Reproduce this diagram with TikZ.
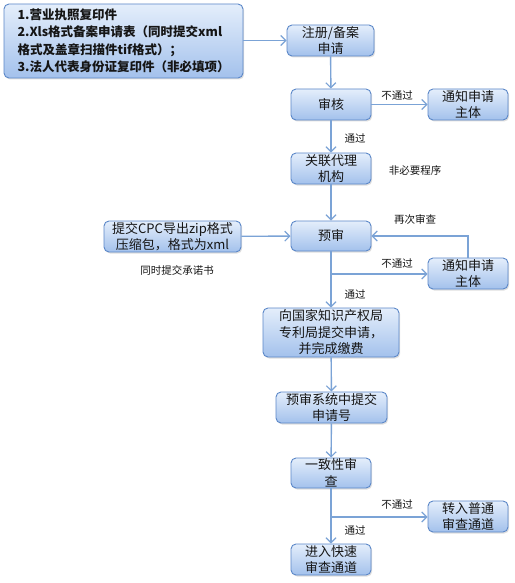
\documentclass[tikz,border=0pt]{standalone}
\usepackage{fontspec}
\setmainfont{Noto Sans CJK SC}
\usetikzlibrary{shadows,arrows.meta}
\definecolor{ln}{HTML}{7BA3D6}
\definecolor{bd}{HTML}{5B87C8}
\definecolor{topc}{HTML}{E4EEFB}
\definecolor{botc}{HTML}{A3C1EC}
\definecolor{txt}{HTML}{151515}
\tikzset{
  box/.style={draw=bd, line width=0.9pt, rounded corners=5pt, top color=topc, bottom color=botc,
    drop shadow={opacity=0.25, shadow xshift=1.2pt, shadow yshift=-1.5pt},
    font=\fontsize{13}{16.5}\selectfont, text=txt, align=center, inner sep=0pt},
  lab/.style={font=\fontsize{10.5}{12}\selectfont, text=txt, inner sep=0pt},
  conn/.style={draw=ln, line width=1.4pt, -{Straight Barb[length=5pt,width=10pt,line width=1.2pt]}},
  plain/.style={draw=ln, line width=1.4pt}
}
\begin{document}
\begin{tikzpicture}[x=1pt,y=-1pt]
\fill[white] (0,0) rectangle (514,583);
\useasboundingbox (0,0) rectangle (514,583);
\node[box, minimum width=239pt, minimum height=74pt, align=left, font=\bfseries\fontsize{12.5}{17.5}\selectfont] (big) at (123.5,41)
  {1.营业执照复印件\\2.Xls格式备案申请表（同时提交xml\\格式及盖章扫描件tif格式）；\\3.法人代表身份证复印件（非必填项）};
\node[box, minimum width=87pt, minimum height=31pt] (reg) at (330.5,40.5) {注册/备案\\申请};
\node[box, minimum width=80pt, minimum height=31pt] (audit) at (331,104.5) {审核};
\node[box, minimum width=80pt, minimum height=31pt] (n1) at (468,104.5) {通知申请\\主体};
\node[box, minimum width=80pt, minimum height=31pt] (agent) at (331,168.5) {关联代理\\机构};
\node[box, minimum width=80pt, minimum height=30pt] (pre) at (331,236) {预审};
\node[box, minimum width=137pt, minimum height=31pt] (cpc) at (172.5,236.5) {提交CPC导出zip格式\\压缩包，格式为xml};
\node[box, minimum width=80pt, minimum height=31pt] (n2) at (468,273.5) {通知申请\\主体};
\node[box, minimum width=136pt, minimum height=49pt] (cnipa) at (331,332.5) {向国家知识产权局\\专利局提交申请，\\并完成缴费};
\node[box, minimum width=111pt, minimum height=31pt] (subno) at (331.5,407.5) {预审系统中提交\\申请号};
\node[box, minimum width=80pt, minimum height=30pt] (cons) at (331,473) {一致性审\\查};
\node[box, minimum width=80pt, minimum height=31pt] (normal) at (468,516.5) {转入普通\\审查通道};
\node[box, minimum width=80pt, minimum height=31pt] (fast) at (331,559.5) {进入快速\\审查通道};

\coordinate (b1) at (331,274);
\coordinate (b2) at (331,517);

\draw[conn] (big.east |- reg.west) -- (reg.west);
\draw[conn] (reg) -- (audit);
\draw[conn] (audit) -- (n1);
\draw[conn] (audit) -- (agent);
\draw[conn] (agent) -- (pre);
\draw[conn] (cpc) -- (pre);
\draw[conn] (pre) -- (cnipa);
\draw[conn] (b1) -- (b1 -| n2.west);
\draw[conn] (n2.north) |- (pre.east);
\draw[conn] (cnipa) -- (subno);
\draw[conn] (subno) -- (cons);
\draw[conn] (cons) -- (fast);
\draw[conn] (b2) -- (b2 -| normal.west);

\node[lab] (l1) at (397,96) {不通过};
\node[lab] (l2) at (355,138) {通过};
\node[lab] (l3) at (415,170) {非必要程序};
\node[lab] (l4) at (415,219) {再次审查};
\node[lab] (l5) at (397,264) {不通过};
\node[lab] (l6) at (355,294) {通过};
\node[lab] (l7) at (177,270) {同时提交承诺书};
\node[lab] (l8) at (397,505) {不通过};
\node[lab] (l9) at (355,530) {通过};
\end{tikzpicture}
\end{document}
